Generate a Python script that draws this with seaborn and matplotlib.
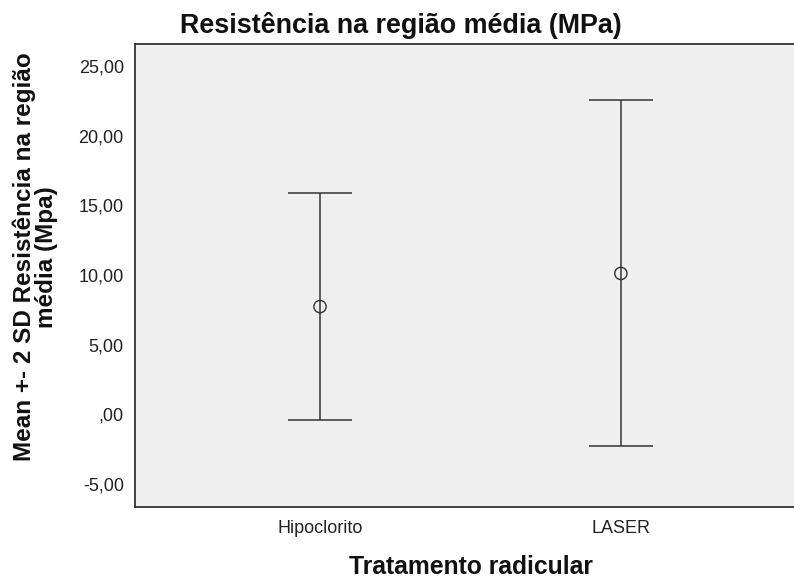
import seaborn as sns
import pandas as pd
import matplotlib.pyplot as plt
from matplotlib.ticker import FuncFormatter

# values (mean and mean +- 2 SD)
groups = ["Hipoclorito", "LASER"]
means = [7.74, 10.12]
lower = [-0.43, -2.30]
upper = [15.92, 22.54]
yticks = [-5, 0, 5, 10, 15, 20, 25]

line_color = "#333333"

sns.set_theme(style="white", rc={"axes.facecolor": "#f0f0f0",
                                 "axes.edgecolor": line_color,
                                 "axes.linewidth": 1.3})
plt.rcParams["font.family"] = ["Liberation Sans", "DejaVu Sans"]

df = pd.DataFrame({"grupo": groups, "media": means, "low": lower, "high": upper})

fig = plt.figure(figsize=(7.94, 5.85), dpi=100)
ax = fig.add_axes([0.170, 0.134, 0.845, 0.791])

err_low = df["media"] - df["low"]
err_high = df["high"] - df["media"]
ax.errorbar(df["grupo"], df["media"], yerr=[err_low, err_high], fmt="none",
            ecolor=line_color, elinewidth=1.1, capsize=23, capthick=1.1)
sns.scatterplot(data=df, x="grupo", y="media", ax=ax, marker="o", s=78,
                facecolor="none", edgecolor=line_color, linewidth=1.0, zorder=3)

ax.set_xlim(-0.615, 1.615)
ax.set_ylim(-6.62, 26.6)
ax.set_yticks(yticks)


def virgula(v, pos):
    s = f"{v:.2f}".replace(".", ",")
    if s.startswith("0"):
        s = s[1:]
    return s


ax.yaxis.set_major_formatter(FuncFormatter(virgula))
ax.tick_params(axis="both", which="major", direction="out", length=7, width=1.1,
               color=line_color, labelsize=13, labelcolor="#222222")
ax.tick_params(axis="y", pad=1)
ax.tick_params(axis="x", pad=3)
for side in ["left", "bottom", "top", "right"]:
    ax.spines[side].set_visible(True)

ax.set_xlabel("Tratamento radicular", fontsize=17.8, fontweight="bold", color="#111111")
ax.xaxis.set_label_coords(0.5, -0.105)
ax.set_ylabel("Mean +- 2 SD Resistência na região\nmédia (Mpa)", fontsize=17.5,
              fontweight="bold", color="#111111", linespacing=0.95)
ax.yaxis.set_label_coords(-0.115, 0.54)

fig.text(0.505, 0.944, "Resistência na região média (MPa)", ha="center", va="baseline",
         fontsize=19.4, fontweight="bold", color="#111111")

fig.savefig("out.png", dpi=100, facecolor="white")
